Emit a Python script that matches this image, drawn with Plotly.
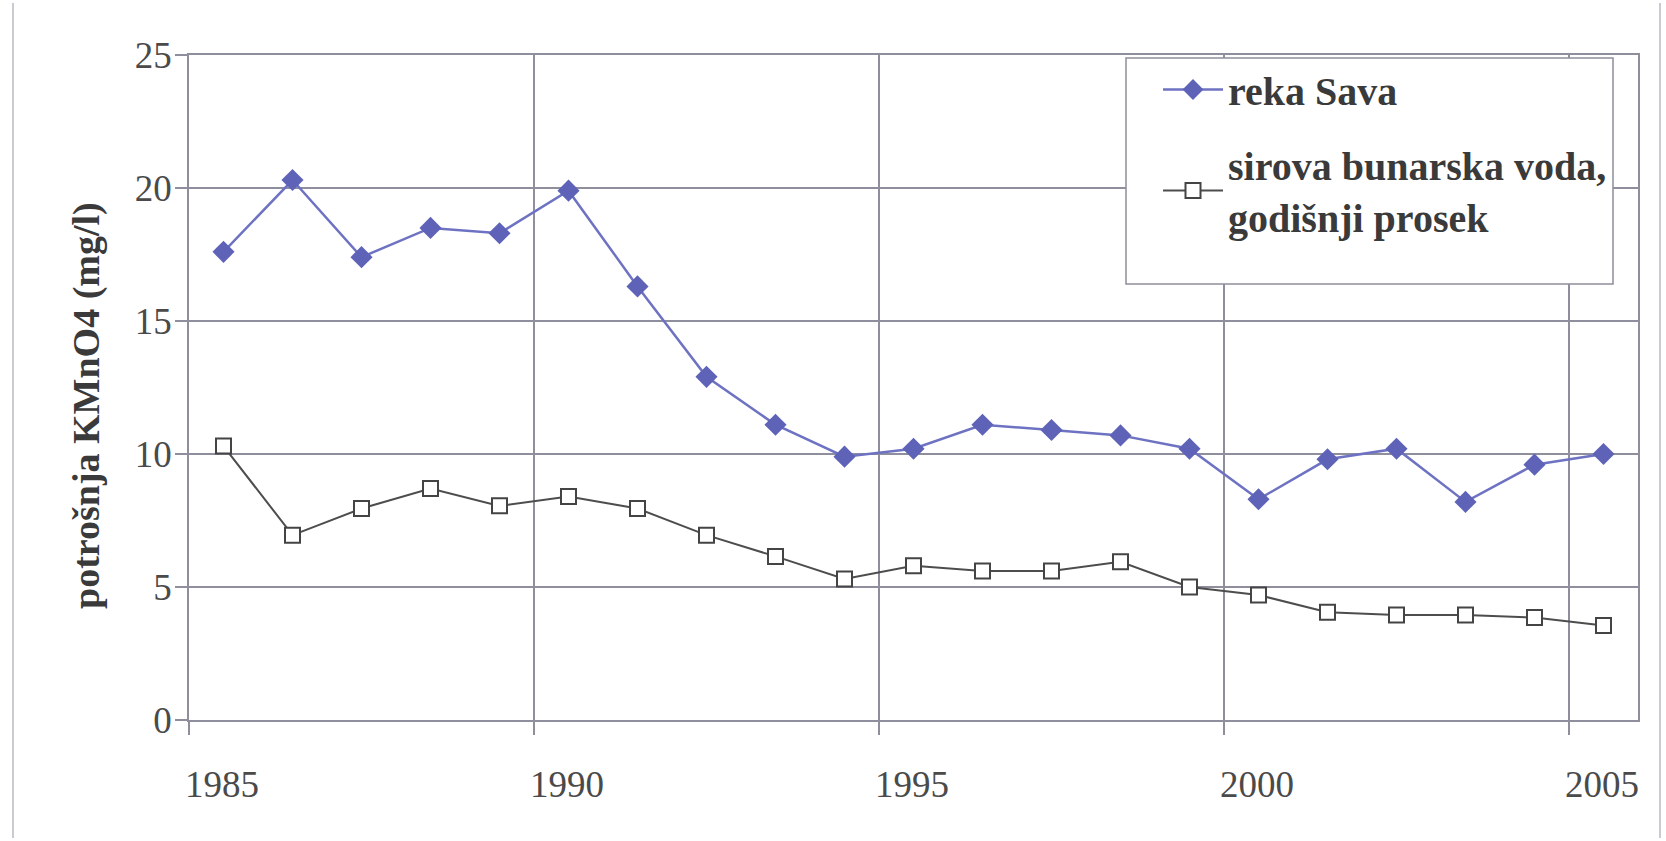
import plotly.graph_objects as go

years = list(range(1985, 2006))
sava = [17.6, 20.3, 17.4, 18.5, 18.3, 19.9, 16.3, 12.9, 11.1, 9.9, 10.2,
        11.1, 10.9, 10.7, 10.2, 8.3, 9.8, 10.2, 8.2, 9.6, 10.0]
bunar = [10.3, 6.95, 7.95, 8.7, 8.05, 8.4, 7.95, 6.95, 6.15, 5.3, 5.8,
         5.6, 5.6, 5.95, 5.0, 4.7, 4.05, 3.95, 3.95, 3.85, 3.55]
label_years = [1985, 1990, 1995, 2000, 2005]
y_ticks = [0, 5, 10, 15, 20, 25]

name_sava = "reka Sava"
name_bunar = "sirova bunarska voda,<br>godišnji prosek"
y_title = "potrošnja KMnO4 (mg/l)"

W, H = 1666, 841
L, R, T, B = 189, 28, 55, 121
pw, ph = W - L - R, H - T - B

def px_x(p):
    return (p - L) / pw

def px_y(p):
    return (H - B - p) / ph

SERIF = "Liberation Serif"
GRID = "#8e8e9c"

fig = go.Figure()
fig.add_trace(go.Scatter(
    x=years, y=sava, name=name_sava, mode="lines+markers",
    legendgroup="a",
    line=dict(color="#6e72c2", width=2.5),
    marker=dict(symbol="diamond", size=17, color="#5f63b8",
                line=dict(width=0)),
))
fig.add_trace(go.Scatter(
    x=years, y=bunar, name=name_bunar, mode="lines+markers",
    legendgroup="b",
    line=dict(color="#4d4d4d", width=2),
    marker=dict(symbol="square", size=15, color="white",
                line=dict(color="#444444", width=2)),
))

grid_x = [y - 0.5 for y in label_years]

fig.update_xaxes(
    range=[years[0] - 0.5, years[-1] + 0.5],
    tickmode="array", tickvals=grid_x, ticktext=[str(y) for y in label_years],
    ticklabelshift=33, ticklabelstandoff=18,
    showgrid=True, gridcolor=GRID, gridwidth=1.5,
    ticks="outside", ticklen=13, tickcolor=GRID, tickwidth=1.5,
    showline=True, linecolor=GRID, linewidth=1.5, mirror=True,
    zeroline=False,
    tickfont=dict(family=SERIF, size=37, color="#4a4a4a"),
)
fig.update_yaxes(
    range=[0, 25], tickmode="array", tickvals=y_ticks,
    showgrid=True, gridcolor=GRID, gridwidth=1.5,
    ticks="outside", ticklen=12, tickcolor=GRID, tickwidth=1.5,
    ticklabelstandoff=-4,
    showline=True, linecolor=GRID, linewidth=1.5, mirror=True,
    zeroline=False,
    tickfont=dict(family=SERIF, size=37, color="#4a4a4a"),
)

shapes = [
    dict(type="rect", xref="paper", yref="paper",
         x0=px_x(1126), x1=px_x(1613), y0=px_y(284), y1=px_y(58),
         fillcolor="white", line=dict(color=GRID, width=1.5), layer="above"),
    dict(type="line", xref="paper", yref="paper",
         x0=px_x(13), x1=px_x(13), y0=px_y(838), y1=px_y(3),
         line=dict(color="#b8b8c0", width=1.5)),
    dict(type="line", xref="paper", yref="paper",
         x0=px_x(1660), x1=px_x(1660), y0=px_y(838), y1=px_y(3),
         line=dict(color="#b8b8c0", width=1.5)),
]

fig.update_layout(
    width=W, height=H, autosize=False,
    margin=dict(l=L, r=R, t=T, b=B, pad=0),
    paper_bgcolor="white", plot_bgcolor="white",
    shapes=shapes,
    showlegend=True,
    legend=dict(
        x=px_x(1158), y=px_y(57), xanchor="left", yanchor="top",
        bgcolor="rgba(0,0,0,0)", borderwidth=0,
        font=dict(family=SERIF, size=40, color="#3a3a3a", weight="bold"),
        traceorder="grouped", tracegroupgap=20, itemwidth=60,
    ),
    annotations=[dict(
        text="<b>" + y_title + "</b>", xref="paper", yref="paper",
        x=px_x(86), y=px_y(406), textangle=-90, showarrow=False,
        xanchor="center", yanchor="middle",
        font=dict(family=SERIF, size=38, color="#3a3a3a"),
    )],
)

fig.write_html("out.html")
